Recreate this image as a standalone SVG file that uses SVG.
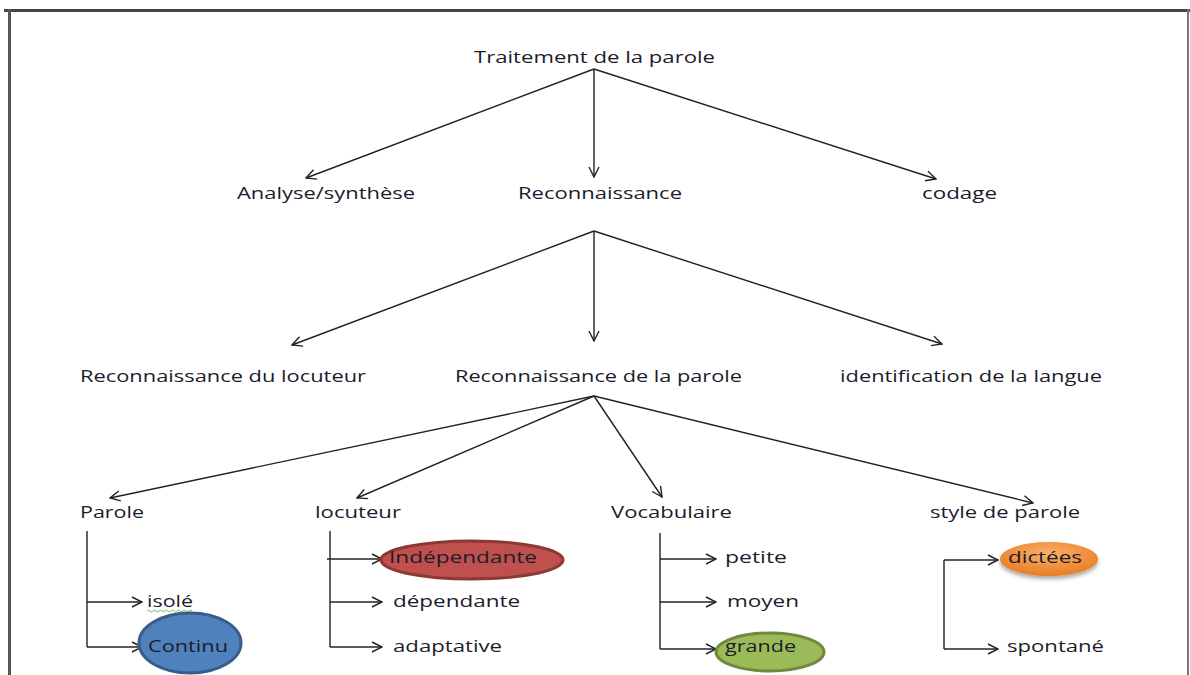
<svg xmlns="http://www.w3.org/2000/svg" width="1190" height="675" viewBox="0 0 1190 675">
<style>
  .t { font-family: "Open Sans", "Noto Sans", "Liberation Sans", sans-serif; font-size: 17px; fill: #1c1c2c; }
  .c { fill: none; stroke: #222; stroke-width: 1.4; }
  .a { marker-end: url(#arr); }
</style>
<defs>
  <marker id="arr" viewBox="0 0 12 12" refX="11" refY="6" markerWidth="12" markerHeight="12" markerUnits="userSpaceOnUse" orient="auto">
    <path d="M1,1 L11,6 L1,11" fill="none" stroke="#222" stroke-width="1.4"/>
  </marker>
  <radialGradient id="og" cx="0.5" cy="0.35" r="0.65">
    <stop offset="0" stop-color="#fbb06a"/>
    <stop offset="1" stop-color="#e87c22"/>
  </radialGradient>
  <filter id="sh" x="-20%" y="-30%" width="140%" height="170%">
    <feGaussianBlur in="SourceAlpha" stdDeviation="2"/>
    <feOffset dx="0" dy="3"/>
    <feComponentTransfer><feFuncA type="linear" slope="0.35"/></feComponentTransfer>
    <feMerge><feMergeNode/><feMergeNode in="SourceGraphic"/></feMerge>
  </filter>
</defs>
<rect width="1190" height="675" fill="#fff"/>
<g id="frame">
  <rect x="4" y="9" width="1186" height="3" fill="#444"/>
  <rect x="8" y="9" width="3" height="666" fill="#555"/>
  <rect x="1187" y="9" width="2" height="666" fill="#777"/>
</g>
<g id="connectors">
  <line class="c a" x1="594" y1="69" x2="306" y2="178"/>
  <line class="c a" x1="594" y1="69" x2="594" y2="177"/>
  <line class="c a" x1="594" y1="69" x2="936" y2="179"/>
  <line class="c a" x1="594" y1="231" x2="292" y2="345"/>
  <line class="c a" x1="594" y1="231" x2="594" y2="341"/>
  <line class="c a" x1="594" y1="231" x2="942" y2="344"/>
  <line class="c a" x1="594" y1="396" x2="110" y2="498"/>
  <line class="c a" x1="594" y1="396" x2="357" y2="498"/>
  <line class="c a" x1="594" y1="396" x2="662" y2="497"/>
  <line class="c a" x1="594" y1="396" x2="1033" y2="503"/>
  <path class="c" d="M87,531 V647"/>
  <path class="c a" d="M87,602 H142"/>
  <path class="c a" d="M87,647 H142"/>
  <path class="c" d="M330,531 V647"/>
  <path class="c a" d="M327,559 H382"/>
  <path class="c a" d="M330,602 H382"/>
  <path class="c a" d="M330,647 H382"/>
  <path class="c" d="M660,533 V649"/>
  <path class="c a" d="M660,559 H716"/>
  <path class="c a" d="M660,602 H716"/>
  <path class="c a" d="M660,649 H716"/>
  <path class="c" d="M944,560 V649"/>
  <path class="c a" d="M944,560 H998"/>
  <path class="c a" d="M944,649 H998"/>
</g>
<g id="n-traitement"><text class="t" x="474" y="63" textLength="241" lengthAdjust="spacingAndGlyphs">Traitement de la parole</text></g>
<g id="n-analyse"><text class="t" x="237" y="199" textLength="178" lengthAdjust="spacingAndGlyphs">Analyse/synthèse</text></g>
<g id="n-reconnaissance"><text class="t" x="518" y="199" textLength="164" lengthAdjust="spacingAndGlyphs">Reconnaissance</text></g>
<g id="n-codage"><text class="t" x="922" y="199" textLength="75" lengthAdjust="spacingAndGlyphs">codage</text></g>
<g id="n-rec-locuteur"><text class="t" x="80" y="382" textLength="286" lengthAdjust="spacingAndGlyphs">Reconnaissance du locuteur</text></g>
<g id="n-rec-parole"><text class="t" x="455" y="382" textLength="287" lengthAdjust="spacingAndGlyphs">Reconnaissance de la parole</text></g>
<g id="n-identification"><text class="t" x="840" y="382" textLength="262" lengthAdjust="spacingAndGlyphs">identification de la langue</text></g>
<g id="n-parole"><text class="t" x="80" y="518" textLength="64" lengthAdjust="spacingAndGlyphs">Parole</text></g>
<g id="n-locuteur"><text class="t" x="315" y="518" textLength="86" lengthAdjust="spacingAndGlyphs">locuteur</text></g>
<g id="n-vocabulaire"><text class="t" x="611" y="518" textLength="121" lengthAdjust="spacingAndGlyphs">Vocabulaire</text></g>
<g id="n-style"><text class="t" x="930" y="518" textLength="150" lengthAdjust="spacingAndGlyphs">style de parole</text></g>
<g id="n-isole">
  <text class="t" x="147" y="607" textLength="46" lengthAdjust="spacingAndGlyphs">isolé</text>
  <path d="M147,611 q1.5,-2 3,0 t3,0 t3,0 t3,0 t3,0 t3,0 t3,0 t3,0 t3,0 t3,0 t3,0 t3,0 t3,0 t3,0 t3,0" fill="none" stroke="#6cbf5c" stroke-width="1"/>
</g>
<g id="n-continu">
  <ellipse cx="190" cy="643" rx="51" ry="30" fill="#4f81bd" stroke="#385d8a" stroke-width="3"/>
  <text class="t" x="148" y="652" textLength="80" lengthAdjust="spacingAndGlyphs">Continu</text>
</g>
<g id="n-independante">
  <ellipse cx="472" cy="560" rx="91" ry="19" fill="#c0504d" stroke="#8c3836" stroke-width="3"/>
  <text class="t" x="389" y="563" textLength="148" lengthAdjust="spacingAndGlyphs">Indépendante</text>
</g>
<g id="n-dependante"><text class="t" x="393" y="607" textLength="127" lengthAdjust="spacingAndGlyphs">dépendante</text></g>
<g id="n-adaptative"><text class="t" x="393" y="652" textLength="109" lengthAdjust="spacingAndGlyphs">adaptative</text></g>
<g id="n-petite"><text class="t" x="725" y="563" textLength="62" lengthAdjust="spacingAndGlyphs">petite</text></g>
<g id="n-moyen"><text class="t" x="727" y="607" textLength="72" lengthAdjust="spacingAndGlyphs">moyen</text></g>
<g id="n-grande">
  <ellipse cx="770" cy="652" rx="54" ry="19" fill="#9bbb59" stroke="#71893f" stroke-width="3"/>
  <text class="t" x="725" y="652" textLength="71" lengthAdjust="spacingAndGlyphs">grande</text>
</g>
<g id="n-dictees">
  <ellipse cx="1049" cy="559" rx="49" ry="17" fill="url(#og)" filter="url(#sh)"/>
  <text class="t" x="1008" y="563" textLength="74" lengthAdjust="spacingAndGlyphs">dictées</text>
</g>
<g id="n-spontane"><text class="t" x="1007" y="652" textLength="97" lengthAdjust="spacingAndGlyphs">spontané</text></g>
</svg>
